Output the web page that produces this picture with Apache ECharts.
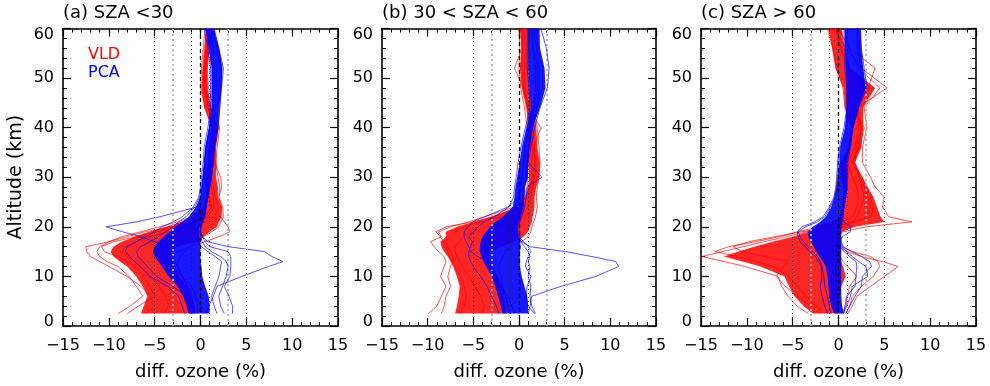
<!DOCTYPE html>
<html>
<head>
<meta charset="utf-8">
<script src="https://cdn.jsdelivr.net/npm/echarts@6/dist/echarts.min.js"></script>
<style>
  html, body { margin: 0; padding: 0; background: #fff; }
  #chart { width: 990px; height: 386px; }
</style>
</head>
<body>
<div id="chart"></div>
<script>
// altitude levels (km) shared by every profile
const ALT = [2.5, 4, 6, 8, 10, 12, 13, 14, 15, 16, 17, 18, 19, 20, 21, 22, 24, 26, 28, 30, 33, 36, 40, 44, 48, 52, 56, 60];
const TITLES = ["(a) SZA <30", "(b) 30 < SZA < 60", "(c) SZA > 60"];

// ---- panel (a) ----
const aRedLo = [-6.5, -6.2, -5.8, -6.3, -7.0, -8.0, -8.8, -9.5, -9.8, -9.5, -8.6, -7.2, -5.6, -3.8, -2.2, -0.8, 0.3, 0.6, 0.6, 0.4, 1.0, 1.0, 1.3, 0.4, 0.1, 0.2, 0.4, 0.6];
const aRedHi = [-0.6, -0.6, -1.0, -1.6, -2.3, -2.8, -3.0, -3.2, -3.2, -2.6, -0.3, 0.3, 1.0, 1.8, 2.0, 2.3, 2.3, 1.9, 1.9, 1.7, 1.7, 1.7, 2.0, 1.2, 0.8, 0.8, 1.0, 1.5];
const aBlueLo = [-1.3, -1.5, -1.9, -2.5, -3.5, -4.2, -4.6, -5.0, -5.2, -5.0, -4.6, -4.0, -3.4, -2.8, -2.0, -1.3, -0.5, 0.0, 0.1, 0.2, 0.35, 0.5, 0.9, 1.2, 1.2, 1.2, 0.9, 0.5];
const aBlueHi = [1.0, 1.0, 0.9, 0.5, 0.2, 0.1, 0.0, 0.0, 0.0, 0.0, 0.0, -0.1, -0.2, -0.1, 0.1, 0.4, 0.65, 0.8, 1.0, 1.2, 1.35, 1.5, 1.8, 2.0, 2.3, 2.4, 2.0, 1.4];
const aRedLines = [
  [-9.0, -7.7, -6.3, -7.0, -7.8, -9.0, -10.2, -11.0, -11.3, -11.0, -10.0, -8.6, -6.5, -4.5, -2.5, -1.0, 0.3, 0.8, 0.6, 0.4, 0.9, 0.9, 1.2, 0.5, 0.0, 0.1, 0.3, 0.5],
  [-6.0, -5.0, -5.5, -6.5, -8.0, -10.0, -11.0, -12.0, -12.4, -12.5, -10.0, -8.0, -6.0, -3.0, -1.0, 0.5, 1.2, 1.0, 0.8, 0.6, 1.2, 1.3, 1.6, 0.8, 0.3, 0.4, 0.6, 0.9],
  [-0.3, -0.3, -0.8, -1.4, -2.0, -2.5, -2.5, -2.2, -1.8, -1.0, -0.5, 0.3, 1.2, 2.0, 2.2, 2.5, 2.4, 2.0, 2.1, 1.9, 1.7, 1.8, 2.1, 1.4, 0.9, 1.0, 1.2, 1.6],
  [-1.5, -1.2, -1.5, -2.2, -3.0, -3.5, -3.8, -3.5, -2.5, -1.2, 0.5, 2.0, 3.2, 3.0, 2.6, 2.2, 2.3, 2.0, 2.3, 2.2, 1.5, 1.6, 1.9, 1.0, 0.6, 0.6, 0.8, 1.3],
  [-8.0, -6.8, -5.0, -5.5, -6.2, -7.2, -8.0, -9.0, -10.5, -10.8, -9.5, -7.0, -4.8, -2.5, -0.5, 0.8, 1.5, 1.4, 1.2, 1.0, 1.3, 1.4, 1.7, 0.9, 0.4, 0.5, 0.7, 1.1],
  [-4.0, -3.5, -3.8, -4.5, -5.5, -6.5, -7.2, -8.0, -8.5, -8.2, -7.0, -5.5, -3.5, -1.5, 0.5, 1.5, 2.0, 1.6, 1.4, 1.2, 1.4, 1.5, 1.8, 1.1, 0.5, 0.6, 0.8, 1.2]
];
const aBlueLines = [
  [-1.7, -2.0, -2.4, -3.6, -5.5, -6.6, -7.2, -7.7, -8.2, -8.0, -7.0, -6.0, -5.0, -4.2, -3.0, -2.0, -0.8, -0.2, 0.0, 0.1, 0.3, 0.4, 0.8, 1.1, 1.1, 1.1, 0.8, 0.4],
  [-0.8, -1.2, -1.6, -3.0, -4.8, -5.8, -6.3, -6.8, -7.0, -6.5, -5.5, -4.6, -3.8, -3.0, -2.4, -1.6, -0.6, -0.1, 0.1, 0.3, 0.5, 0.6, 1.0, 1.4, 1.5, 1.5, 1.1, 0.6],
  [2.6, 2.2, 2.0, 2.4, 2.8, 3.0, 2.8, 2.2, 1.2, 0.5, 0.2, 0.0, -0.1, 0.0, 0.2, 0.4, 0.6, 0.8, 1.0, 1.2, 1.4, 1.5, 1.9, 2.1, 2.3, 2.5, 2.0, 1.5],
  [1.8, 1.5, 1.2, 1.6, 2.0, 2.2, 2.3, 1.6, 0.8, 0.1, -0.3, -0.4, -0.3, -0.2, 0.0, 0.3, 0.5, 0.7, 0.9, 1.1, 1.3, 1.4, 1.8, 1.9, 2.0, 2.2, 1.8, 1.2],
  [3.5, 3.5, 3.1, 2.6, 3.2, 3.3, 3.3, 3.3, 3.0, 1.0, 0.5, 0.2, 0.0, 0.0, 0.2, 0.4, 0.6, 0.8, 1.0, 1.2, 1.3, 1.5, 1.9, 2.0, 2.2, 2.3, 1.9, 1.3],
  [0.6, 0.9, 1.4, 1.8, 4.5, 7.4, 9.0, 7.8, 7.0, 3.0, 0.8, 0.2, 0.0, 0.1, 0.3, 0.5, 0.6, 0.8, 1.0, 1.2, 1.4, 1.5, 1.9, 2.1, 2.2, 2.3, 2.0, 1.4],
  [-0.6, -0.8, -1.0, -1.5, -2.0, -2.5, -2.8, -3.0, -3.5, -4.0, -5.0, -6.5, -8.5, -10.3, -7.0, -4.5, -0.4, 0.0, 0.2, 0.3, 0.5, 0.6, 1.0, 1.3, 1.3, 1.3, 1.0, 0.6],
  [0.3, 0.0, -0.5, -1.0, -2.0, -3.0, -3.5, -4.0, -4.2, -4.0, -3.5, -3.0, -2.5, -2.0, -1.3, -0.7, 0.0, 0.4, 0.6, 0.7, 0.9, 1.0, 1.4, 1.6, 1.7, 1.8, 1.4, 0.9]
];

// ---- panel (b) ----
const bRedLo = [-7.0, -6.8, -6.6, -6.5, -6.8, -7.2, -7.5, -7.8, -8.2, -8.5, -8.6, -8.0, -8.0, -6.8, -5.0, -3.2, 0.0, 0.6, 1.0, 1.1, 1.0, 1.2, 1.0, 0.8, 0.3, 0.1, 0.25, 0.1];
const bRedHi = [-1.5, -1.5, -1.6, -2.0, -2.3, -3.0, -3.2, -3.3, -3.0, -2.0, -0.5, 0.5, 1.0, 1.2, 1.4, 1.5, 1.7, 1.7, 1.9, 2.2, 2.3, 2.0, 1.9, 1.5, 1.15, 1.0, 1.1, 1.15];
const bBlueLo = [-1.8, -2.0, -2.3, -2.6, -3.0, -3.6, -3.9, -4.1, -4.3, -4.3, -4.2, -4.0, -3.6, -3.2, -2.6, -1.8, -0.7, -0.5, -0.4, -0.2, 0.07, 0.3, 0.8, 1.3, 1.15, 1.0, 1.0, 1.0];
const bBlueHi = [1.0, 1.0, 0.9, 0.6, 0.3, 0.1, 0.1, 0.1, 0.1, 0.2, 0.1, 0.0, -0.1, -0.1, 0.0, 0.2, 0.5, 0.6, 0.65, 1.0, 1.0, 1.2, 1.5, 2.3, 2.9, 2.8, 2.3, 2.25];
const bRedLines = [
  [-9.9, -9.0, -8.5, -8.0, -8.6, -8.2, -8.0, -8.2, -8.8, -9.3, -9.7, -8.5, -8.8, -7.5, -5.5, -3.8, -0.5, 0.5, 0.9, 0.9, 1.0, 1.1, 0.9, 0.6, 0.2, 0.0, 0.1, 0.0],
  [-6.5, -6.0, -5.8, -6.0, -6.5, -7.0, -7.3, -7.6, -7.8, -8.0, -8.3, -8.6, -9.1, -8.0, -5.0, -2.8, -0.2, 0.8, 1.2, 1.4, 1.4, 1.5, 1.3, 0.9, 0.5, 0.3, 0.4, 0.3],
  [-1.0, -1.2, -1.4, -1.8, -2.0, -2.3, -2.0, -1.8, -1.5, -1.0, 0.3, 1.0, 1.3, 1.4, 1.6, 1.8, 2.0, 1.9, 2.0, 2.2, 2.3, 2.2, 2.0, 1.5, 1.2, 1.1, 1.1, 1.2],
  [-4.0, -3.8, -4.2, -4.8, -5.5, -6.2, -6.5, -6.8, -7.0, -7.0, -6.5, -6.0, -5.0, -3.5, -1.5, 0.0, 1.0, 1.3, 1.5, 1.7, 1.8, 1.6, 2.4, 1.0, 0.5, -0.5, 0.3, 0.4],
  [-8.5, -8.2, -8.0, -7.5, -7.8, -7.5, -7.2, -7.3, -7.5, -7.8, -8.0, -7.6, -7.0, -6.0, -4.2, -2.0, 0.3, 1.0, 1.3, 1.6, 1.7, 1.7, 1.5, 1.1, 0.7, 0.6, 0.7, 0.6]
];
const bBlueLines = [
  [-2.2, -2.5, -3.0, -3.5, -4.2, -5.0, -5.3, -5.5, -5.5, -5.3, -5.1, -5.5, -5.0, -4.5, -3.8, -2.7, -1.1, -0.6, -0.5, -0.3, -0.1, 0.2, 0.7, 1.2, 1.1, 0.9, 0.9, 0.9],
  [1.8, 1.4, 1.2, 1.3, 1.0, 1.2, 1.0, 1.2, 1.0, 0.6, 0.2, 0.1, 0.0, 0.0, 0.1, 0.3, 0.6, 0.8, 0.9, 2.5, 1.0, 1.3, 1.7, 2.3, 3.1, 3.3, 3.0, 2.4],
  [1.0, 1.2, 1.4, 4.6, 8.4, 10.9, 10.6, 8.0, 5.1, 1.2, 0.3, -0.5, -1.0, -1.2, -0.8, -0.3, 0.2, 0.4, 0.5, 0.7, 0.8, 1.0, 1.4, 1.9, 2.2, 2.2, 1.9, 1.6],
  [-0.5, -0.8, -1.2, -2.0, -2.5, -3.0, -3.5, -4.5, -5.3, -5.5, -5.8, -6.0, -6.0, -5.6, -5.1, -3.8, -1.2, 0.0, 0.2, 0.3, 0.5, 0.6, 1.1, 1.6, 1.8, 1.8, 1.5, 1.3],
  [1.7, 1.0, 0.8, 0.9, 1.3, 0.7, 0.8, 1.0, 1.3, 1.0, 0.5, 0.0, -0.3, -0.5, -0.3, 0.0, 0.4, 0.5, 0.6, 0.8, 0.9, 1.1, 1.5, 2.0, 2.6, 2.6, 2.1, 1.8],
  [-1.0, -1.2, -1.5, -2.0, -2.5, -3.2, -3.5, -3.8, -3.6, -3.3, -3.2, -3.4, -3.0, -2.5, -1.8, -1.0, -0.3, 0.0, 0.1, 0.3, 0.5, 0.7, 1.1, 1.7, 2.0, 2.0, 1.6, 1.5]
];

// ---- panel (c) ----
const cRedLo = [-2.8, -3.8, -4.8, -5.4, -5.9, -8.5, -10.5, -12.5, -11.0, -9.2, -7.2, -5.0, -3.3, -2.5, -1.0, 0.2, 0.4, 0.5, 0.5, 0.2, 0.2, 1.3, 1.45, 0.7, 0.55, -0.35, -0.7, -1.1];
const cRedHi = [-0.1, 0.0, 0.1, 0.3, 0.8, 0.5, 0.3, 0.2, 0.2, 0.2, 0.2, 0.2, 0.4, 1.8, 5.0, 4.6, 4.2, 3.8, 3.2, 2.6, 1.8, 2.5, 2.7, 2.7, 4.0, 1.3, 0.7, 0.36];
const cBlueLo = [-0.45, -0.8, -1.0, -1.1, -1.2, -1.4, -1.7, -2.1, -2.4, -2.7, -3.0, -3.3, -3.3, -2.8, -2.0, -1.4, -0.8, -0.45, -0.25, -0.1, 0.1, 0.2, 0.7, 0.9, 0.9, 0.8, 0.7, 0.7];
const cBlueHi = [0.6, 0.4, 0.3, 0.3, 0.3, 0.3, 0.3, 0.3, 0.3, 0.3, 0.3, 0.3, 0.3, 0.3, 0.4, 0.5, 0.65, 0.85, 1.0, 0.9, 0.9, 1.3, 1.6, 2.2, 3.0, 2.7, 2.5, 2.4];
const cRedLines = [
  [-3.3, -4.5, -5.5, -6.2, -6.6, -10.2, -12.5, -14.9, -12.7, -10.4, -8.1, -5.7, -3.5, -1.5, -0.5, 0.3, 0.5, 0.6, 0.6, 0.5, 0.3, 1.2, 1.5, 0.7, 0.5, -0.2, -0.6, -1.2],
  [0.3, 0.8, 1.0, 1.2, 2.0, 1.0, 0.5, 0.2, 0.0, -0.5, -0.8, -0.5, 0.5, 3.0, 8.0, 5.5, 4.8, 5.0, 4.0, 3.5, 2.6, 2.6, 3.1, 2.8, 4.5, 2.2, 1.2, 0.6],
  [1.0, 1.5, 2.0, 3.5, 5.0, 6.5, 4.8, 2.5, 1.0, 0.0, -0.5, -1.0, -0.5, 0.5, 1.5, 2.0, 2.5, 2.8, 2.6, 2.2, 1.8, 2.0, 2.5, 2.0, 5.3, 2.5, 0.8, -0.5],
  [-1.5, -2.5, -3.5, -4.5, -5.5, -7.0, -9.0, -11.0, -13.5, -12.0, -9.0, -6.5, -4.5, -2.0, 0.5, 1.5, 2.0, 2.2, 2.0, 1.5, 1.0, 1.8, 2.2, 2.0, 3.2, 4.0, 1.2, 0.0],
  [-2.0, -3.0, -4.5, -5.8, -6.8, -6.0, -5.5, -8.0, -10.5, -11.5, -9.8, -7.0, -4.0, -1.0, 1.5, 3.0, 3.5, 3.2, 2.8, 2.4, 1.5, 2.3, 2.8, 1.5, 3.5, 1.0, 0.2, -0.3],
  [0.8, 1.2, 1.5, 2.5, 3.8, 4.5, 4.3, 3.5, 1.5, 0.3, -0.8, -2.0, -2.5, -1.0, 2.0, 3.5, 3.8, 3.5, 3.0, 2.6, 1.5, 2.2, 2.6, 1.8, 2.8, 1.0, 0.3, -0.2]
];
const cBlueLines = [
  [-1.2, -1.5, -1.8, -2.0, -1.8, -1.9, -2.2, -2.5, -3.2, -3.6, -4.2, -4.4, -4.5, -4.0, -2.6, -1.7, -1.0, -0.5, -0.3, -0.2, -0.1, 0.1, 0.6, 0.9, 0.9, 0.7, 0.7, 0.6],
  [0.8, 1.2, 1.8, 2.5, 2.6, 3.6, 3.4, 2.5, 1.5, 0.5, 0.3, 0.1, 0.2, 0.3, 0.4, 0.5, 0.6, 0.8, 0.9, 1.0, 1.0, 1.3, 1.6, 2.2, 3.1, 2.8, 2.5, 2.4],
  [0.5, 0.9, 1.3, 1.5, 3.2, 3.0, 2.2, 1.5, 0.9, 0.4, 0.2, 0.4, 1.3, 1.3, 0.6, 0.4, 0.5, 0.7, 0.8, 0.9, 0.8, 1.2, 1.5, 2.0, 2.8, 2.6, 2.3, 2.2],
  [0.6, 0.7, 0.9, 1.8, 1.9, 2.0, 1.9, 1.2, 0.6, 0.2, 0.0, -0.2, -0.3, -0.2, 0.0, 0.2, 0.4, 0.6, 0.7, 0.8, 0.7, 1.1, 1.4, 1.8, 2.5, 2.4, 2.1, 2.0],
  [-0.8, -1.0, -1.2, -1.5, -1.6, -1.8, -2.0, -2.3, -2.8, -3.3, -3.8, -4.2, -4.4, -3.6, -2.3, -1.5, -0.9, -0.4, -0.2, -0.1, 0.0, 0.2, 0.8, 1.0, 1.0, 0.9, 0.8, 0.8]
];

const panels = [
  { red: [aRedLo, aRedHi], blue: [aBlueLo, aBlueHi], redLines: aRedLines, blueLines: aBlueLines },
  { red: [bRedLo, bRedHi], blue: [bBlueLo, bBlueHi], redLines: bRedLines, blueLines: bBlueLines },
  { red: [cRedLo, cRedHi], blue: [cBlueLo, cBlueHi], redLines: cRedLines, blueLines: cBlueLines }
];
const gridLeft = [63, 382, 701];
const gridWidth = [275, 274, 275];
const RED = "#ff0000";
const BLUE = "#0000ff";
const FONT = "DejaVu Sans";

const minus = (v) => (v < 0 ? "\u2212" + -v : String(v));
// IDL-style: top label pushed down, bottom label pushed up
const yLabel = (v) => (v === 60 ? "{top|60}" : v === 0 ? "{bot|0}" : String(v));

const myChart = echarts.init(document.getElementById("chart"), null, { renderer: "canvas" });

let grid = [], xAxis = [], yAxis = [], series = [], title = [];
const tickStyle = { show: true, inside: true, length: 8, lineStyle: { color: "#000", width: 1.2 } };
const minorStyle = { show: true, splitNumber: 5, length: 4, lineStyle: { color: "#000", width: 1 } };
const lineAx = { show: true, onZero: false, lineStyle: { color: "#000", width: 1.6 } };

const band = (gi, lo, hi, color, z) => ({
  type: "custom",
  xAxisIndex: gi * 2,
  yAxisIndex: gi * 2,
  silent: true,
  clip: true,
  z,
  data: [[0, 0]],
  renderItem: (params, api) => {
    const pts = [];
    ALT.forEach((a, i) => pts.push(api.coord([lo[i], a])));
    for (let i = ALT.length - 1; i >= 0; i--) pts.push(api.coord([hi[i], ALT[i]]));
    return { type: "polygon", shape: { points: pts }, style: { fill: color } };
  }
});

const profile = (gi, xs, color, z) => ({
  type: "line",
  xAxisIndex: gi * 2,
  yAxisIndex: gi * 2,
  silent: true,
  showSymbol: false,
  symbol: "none",
  z,
  data: ALT.map((a, i) => [xs[i], a]),
  lineStyle: { color, width: 0.8, opacity: 0.85 }
});

panels.forEach((p, gi) => {
  grid.push({ left: gridLeft[gi], top: 28.5, width: gridWidth[gi], height: 298.5 });
  xAxis.push({
    gridIndex: gi, type: "value", min: -15, max: 15, interval: 5, position: "bottom",
    axisLine: lineAx, axisTick: tickStyle, minorTick: minorStyle,
    splitLine: { show: false },
    axisLabel: { margin: 12, color: "#000", fontSize: 16, fontFamily: FONT, formatter: minus },
    name: "diff. ozone (%)", nameLocation: "middle", nameGap: 37,
    nameTextStyle: { color: "#000", fontSize: 18, fontFamily: FONT }
  });
  xAxis.push({
    gridIndex: gi, type: "value", min: -15, max: 15, interval: 5, position: "top",
    axisLine: lineAx, axisTick: tickStyle, minorTick: minorStyle,
    splitLine: { show: false }, axisLabel: { show: false }
  });
  yAxis.push({
    gridIndex: gi, type: "value", min: 0, max: 60, interval: 10, position: "left",
    axisLine: lineAx, axisTick: tickStyle, minorTick: minorStyle,
    splitLine: { show: false },
    axisLabel: {
      margin: 9, color: "#000", fontSize: 16, fontFamily: FONT, formatter: yLabel,
      rich: {
        top: { fontSize: 16, fontFamily: FONT, color: "#000", padding: [12, 0, 0, 0] },
        bot: { fontSize: 16, fontFamily: FONT, color: "#000", padding: [0, 0, 8, 0] }
      }
    },
    name: gi === 0 ? "Altitude (km)" : "", nameLocation: "middle", nameGap: 37,
    nameTextStyle: { color: "#000", fontSize: 19, fontFamily: FONT }
  });
  yAxis.push({
    gridIndex: gi, type: "value", min: 0, max: 60, interval: 10, position: "right",
    axisLine: lineAx, axisTick: tickStyle, minorTick: minorStyle,
    splitLine: { show: false }, axisLabel: { show: false }
  });
  title.push({
    text: TITLES[gi], left: gridLeft[gi], top: 4, padding: 0,
    textStyle: { color: "#000", fontSize: 18, fontWeight: "normal", fontFamily: FONT }
  });

  series.push(band(gi, p.red[0], p.red[1], "rgba(255,0,0,0.85)", 2));
  p.redLines.forEach((xs) => series.push(profile(gi, xs, RED, 3)));
  series.push(band(gi, p.blue[0], p.blue[1], "rgba(0,0,255,0.9)", 4));
  p.blueLines.forEach((xs) => series.push(profile(gi, xs, BLUE, 5)));

  // reference lines at -5, -3, -1, 0, 1, 3, 5
  const dotBlack = { color: "#222", width: 1, type: [1, 3] };
  const dotGray = { color: "#b4b4b4", width: 1.8, type: [2, 3] };
  series.push({
    type: "line",
    xAxisIndex: gi * 2,
    yAxisIndex: gi * 2,
    data: [],
    z: 8,
    markLine: {
      silent: true,
      symbol: ["none", "none"],
      label: { show: false },
      animation: false,
      data: [
        { xAxis: -5, lineStyle: dotBlack },
        { xAxis: 5, lineStyle: dotBlack },
        { xAxis: -3, lineStyle: dotGray },
        { xAxis: 3, lineStyle: dotGray },
        { xAxis: -1, lineStyle: dotBlack },
        { xAxis: 1, lineStyle: dotBlack },
        { xAxis: 0, lineStyle: { color: "#000", width: 1.3, type: [4, 3] } }
      ]
    }
  });
});

const options = {
  animation: false,
  backgroundColor: "#fff",
  title,
  grid,
  xAxis,
  yAxis,
  series,
  graphic: [
    { type: "text", left: 88, top: 47, style: { text: "VLD", fill: RED, fontSize: 16, fontFamily: FONT } },
    { type: "text", left: 88, top: 65, style: { text: "PCA", fill: BLUE, fontSize: 16, fontFamily: FONT } }
  ]
};

myChart.setOption(options, true);
</script>
</body>
</html>
